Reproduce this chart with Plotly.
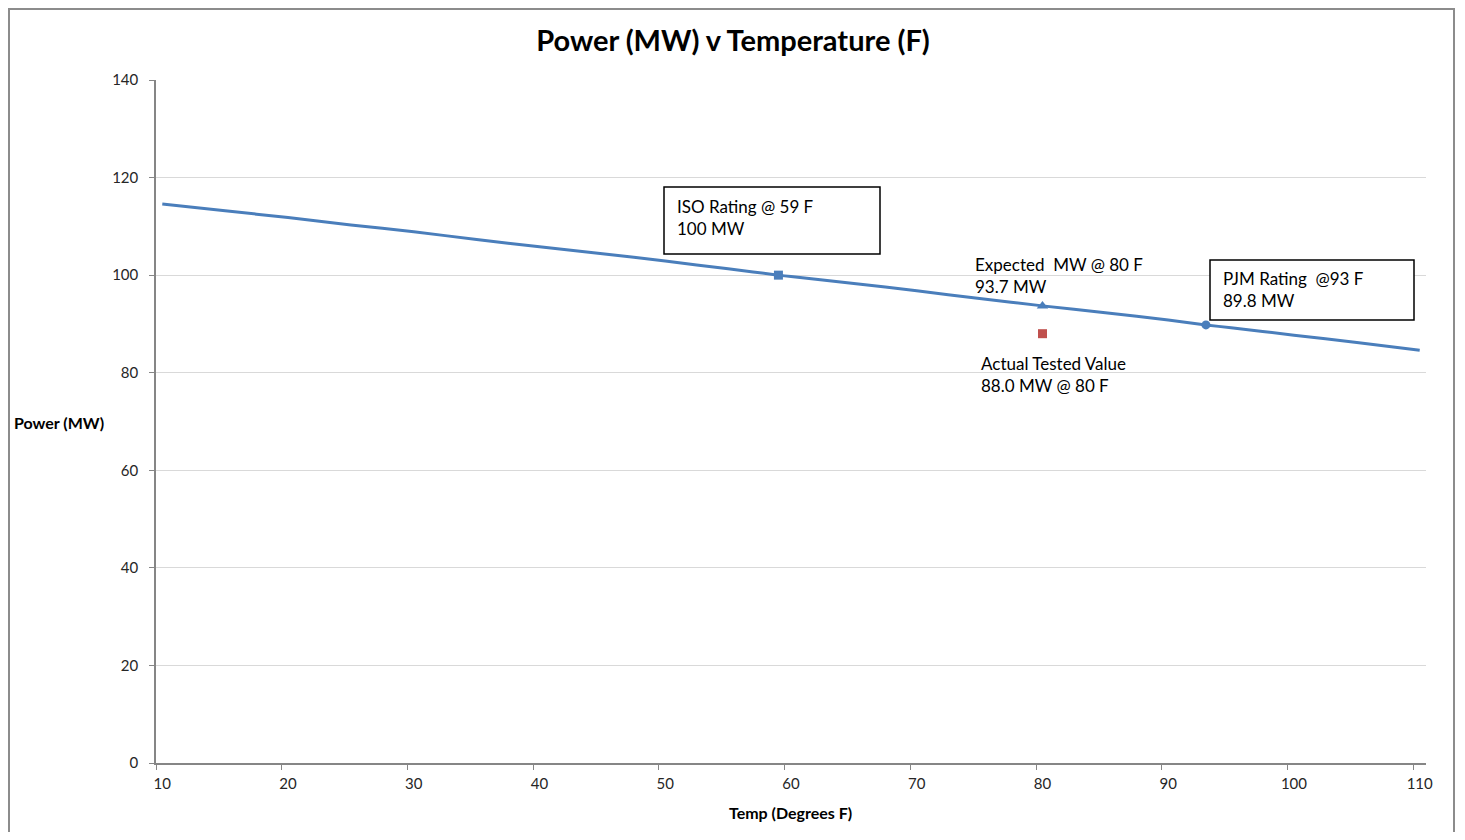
import plotly.graph_objects as go

# Data
temps = [10, 15, 20, 25, 30, 35, 40, 45, 50, 55, 59, 60, 65, 70, 75, 80, 85, 90, 93, 95, 100, 105, 110]
power = [114.6, 113.2, 111.8, 110.3, 108.9, 107.3, 105.8, 104.4, 102.9, 101.3, 100.0, 99.7,
         98.3, 96.8, 95.2, 93.7, 92.3, 90.8, 89.8, 89.2, 87.7, 86.2, 84.6]

iso_t, iso_p = [59], [100.0]
exp_t, exp_p = [80], [93.7]
pjm_t, pjm_p = [93], [89.8]
act_t, act_p = [80], [88.0]

x_ticks = [10, 20, 30, 40, 50, 60, 70, 80, 90, 100, 110]
y_ticks = [0, 20, 40, 60, 80, 100, 120, 140]

FONT = "Lato"
BLUE = "#4A7EBB"
RED = "#C0504D"
AXIS = "#868686"
GRID = "#D9D9D9"
TXT = "#262626"

fig = go.Figure()
fig.add_trace(go.Scatter(x=temps, y=power, mode="lines",
                         line=dict(color=BLUE, width=3, shape="spline", smoothing=0.3),
                         showlegend=False))
fig.add_trace(go.Scatter(x=iso_t, y=iso_p, mode="markers",
                         marker=dict(symbol="square", size=9, color=BLUE), showlegend=False))
fig.add_trace(go.Scatter(x=exp_t, y=exp_p, mode="markers",
                         marker=dict(symbol="triangle-up", size=10, color=BLUE), showlegend=False))
fig.add_trace(go.Scatter(x=pjm_t, y=pjm_p, mode="markers",
                         marker=dict(symbol="circle", size=9, color=BLUE), showlegend=False))
fig.add_trace(go.Scatter(x=act_t, y=act_p, mode="markers",
                         marker=dict(symbol="square", size=9, color=RED), showlegend=False))

# page offset (body margin) compensation
OFF = 8
W, H = 1465 - 2 * OFF, 840 - 2 * OFF
PL, PT, PW, PH = 156, 80, 1270, 683   # plot area in page pixels
L, T = PL - OFF, PT - OFF
R, B = W - L - PW, H - T - PH

def px2x(px):
    return 9.5 + (px - PL) / PW * 101.0

def py2y(py):
    return (PT + PH - py) / PH * 140.0

def ppx(px):
    return (px - PL) / PW

def ppy(py):
    return (PT + PH - py) / PH

shapes = [
    # text boxes
    dict(type="rect", xref="x", yref="y", x0=px2x(664), x1=px2x(880), y0=py2y(254), y1=py2y(187),
         line=dict(color="black", width=1.5), fillcolor="white", layer="above"),
    dict(type="rect", xref="x", yref="y", x0=px2x(1210), x1=px2x(1414), y0=py2y(320), y1=py2y(260),
         line=dict(color="black", width=1.5), fillcolor="white", layer="above"),
    # outer chart border
    dict(type="rect", xref="paper", yref="paper", x0=ppx(9), x1=ppx(1454), y0=ppy(860), y1=ppy(9),
         line=dict(color="#8C8C8C", width=2), layer="above"),
]

tfont = dict(family=FONT, size=17, color="black")
annotations = [
    dict(x=px2x(675), y=py2y(217.5), xref="x", yref="y", xanchor="left", yanchor="middle",
         text="ISO Rating @ 59 F<br>100 MW", showarrow=False, align="left", font=tfont),
    dict(x=px2x(973), y=py2y(275.5), xref="x", yref="y", xanchor="left", yanchor="middle",
         text="Expected  MW @ 80 F<br>93.7 MW", showarrow=False, align="left", font=tfont),
    dict(x=px2x(1221), y=py2y(289.5), xref="x", yref="y", xanchor="left", yanchor="middle",
         text="PJM Rating  @93 F<br>89.8 MW", showarrow=False, align="left", font=tfont),
    dict(x=px2x(979), y=py2y(374.5), xref="x", yref="y", xanchor="left", yanchor="middle",
         text="Actual Tested Value<br>88.0 MW @ 80 F", showarrow=False, align="left", font=tfont),
    dict(x=ppx(12), y=ppy(422), xref="paper", yref="paper", xanchor="left", yanchor="middle",
         text="<b>Power (MW)</b>", showarrow=False, font=dict(family=FONT, size=16, color="black")),
    dict(x=ppx(790), y=ppy(812), xref="paper", yref="paper", xanchor="center", yanchor="middle",
         text="<b>Temp (Degrees F)</b>", showarrow=False, font=dict(family=FONT, size=16, color="black")),
]

fig.update_layout(
    width=W, height=H,
    margin=dict(l=L, r=R, t=T, b=B, autoexpand=False),
    paper_bgcolor="white", plot_bgcolor="white",
    title=dict(text="<b>Power (MW) v Temperature (F)</b>", x=(733 - OFF) / W, xref="container",
               y=1 - (41 - OFF) / H, yref="container", xanchor="center", yanchor="middle",
               font=dict(family=FONT, size=29, color="black")),
    font=dict(family=FONT, color=TXT),
    shapes=shapes,
    annotations=annotations,
    xaxis=dict(range=[9.5, 110.5], tickmode="array", tickvals=x_ticks,
               ticktext=[str(v) for v in x_ticks], ticks="", showgrid=False, zeroline=False,
               showline=True, linecolor=AXIS, linewidth=1.5,
               tickfont=dict(family=FONT, size=15, color=TXT), ticklabelstandoff=6,
               minor=dict(tickmode="array", tickvals=[v - 0.5 for v in x_ticks], ticks="outside",
                          ticklen=5, tickcolor=AXIS, tickwidth=1, showgrid=False)),
    yaxis=dict(range=[0, 140], tickmode="array", tickvals=y_ticks, ticks="outside", ticklen=5,
               tickcolor=AXIS, showgrid=True, gridcolor=GRID, gridwidth=1, zeroline=False,
               showline=True, linecolor=AXIS, linewidth=1.5,
               tickfont=dict(family=FONT, size=15, color=TXT), ticklabelstandoff=8),
)

fig.write_html("out.html")
